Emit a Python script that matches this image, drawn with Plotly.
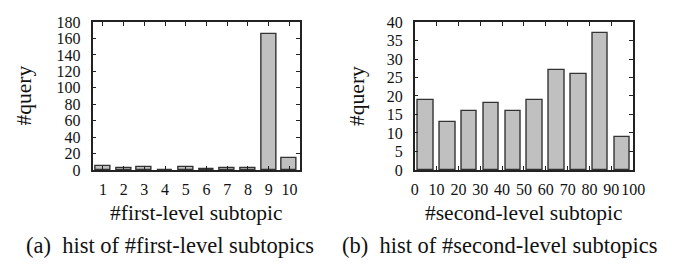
import plotly.graph_objects as go

# Data
first_level_bins = [1, 2, 3, 4, 5, 6, 7, 8, 9, 10]
first_level_counts = [5, 2, 3, 0, 4, 1, 2, 2, 166, 15]

second_level_bins = [5, 15, 25, 35, 45, 55, 65, 75, 85, 95]
second_level_counts = [19, 13, 16, 18, 16, 19, 27, 26, 37, 9]

left_yticks = list(range(0, 181, 20))
right_yticks = list(range(0, 41, 5))
right_xticks = list(range(0, 101, 10))

W, H = 674, 266
FONT = "Liberation Serif"
BAR_FILL = "#c0c0c0"
BAR_LINE = "#333333"
AX = "#222222"

fig = go.Figure()
fig.add_trace(go.Bar(x=first_level_bins, y=first_level_counts, width=0.72,
                     marker=dict(color=BAR_FILL, line=dict(color=BAR_LINE, width=1.4)),
                     xaxis="x", yaxis="y", showlegend=False))
fig.add_trace(go.Bar(x=second_level_bins, y=second_level_counts, width=7.1,
                     marker=dict(color=BAR_FILL, line=dict(color=BAR_LINE, width=1.4)),
                     xaxis="x2", yaxis="y2", showlegend=False))

def px(x):
    return x / W

def py(y):
    return 1 - y / H

axis_common = dict(showline=True, linecolor=AX, linewidth=1.5, mirror="allticks",
                   ticks="inside", ticklen=4, tickwidth=1, tickcolor=AX,
                   showgrid=False, zeroline=False, tickangle=0,
                   tickfont=dict(family=FONT, size=16, color="#111111"))

fig.update_layout(
    width=W, height=H,
    margin=dict(l=0, r=0, t=0, b=0),
    plot_bgcolor="white", paper_bgcolor="white",
    bargap=0,
    xaxis=dict(domain=[px(90.7), px(303)], range=[0.5, 10.5],
               tickmode="array", tickvals=first_level_bins,
               ticklabelstandoff=4, anchor="y", **axis_common),
    yaxis=dict(domain=[py(173), py(15)], range=[0, 180],
               tickmode="array", tickvals=left_yticks,
               ticklabelstandoff=7, anchor="x", **axis_common),
    xaxis2=dict(domain=[px(420.7), px(644.5)], range=[0, 100],
                tickmode="array", tickvals=right_xticks,
                ticklabelstandoff=4, anchor="y2", **axis_common),
    yaxis2=dict(domain=[py(173), py(15)], range=[0, 40],
                tickmode="array", tickvals=right_yticks,
                ticklabelstandoff=7, anchor="x2", **axis_common),
)

title_font = dict(family=FONT, size=21.5, color="#111111")
cap_font = dict(family=FONT, size=22.5, color="#111111")
ann = [
    dict(text="#query", x=px(20), y=py(94), textangle=-90, font=title_font),
    dict(text="#query", x=px(361.5), y=py(94), textangle=-90, font=title_font),
    dict(text="#first-level subtopic", x=px(197), y=py(219), font=title_font),
    dict(text="#second-level subtopic", x=px(532.5), y=py(219), font=title_font),
    dict(text="(a)  hist of #first-level subtopics", x=px(170), y=py(254), font=cap_font),
    dict(text="(b)  hist of #second-level subtopics", x=px(508), y=py(254), font=cap_font),
]
for a in ann:
    fig.add_annotation(xref="paper", yref="paper", showarrow=False,
                       xanchor="center", yanchor="middle", **a)

fig.write_html("out.html", config={"displayModeBar": False},
               post_script="document.body.style.margin='0';document.body.style.overflow='hidden';")
